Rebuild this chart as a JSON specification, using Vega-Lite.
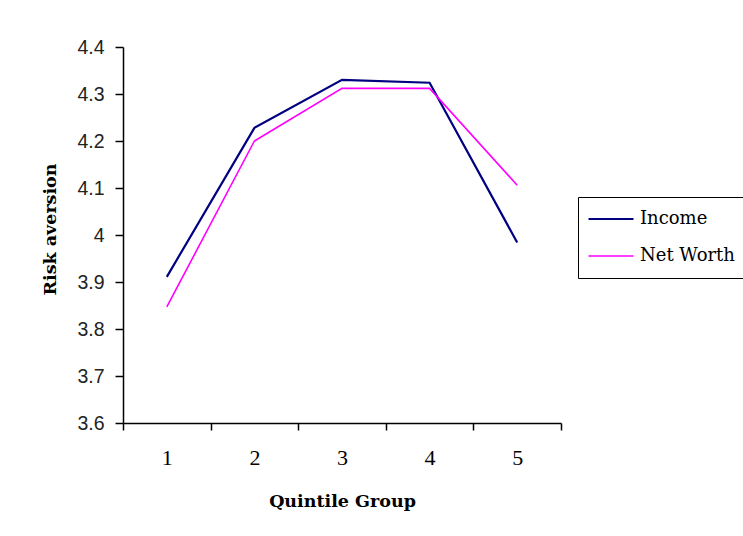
{
  "$schema": "https://vega.github.io/schema/vega-lite/v6.json",
  "width": 438,
  "height": 376,
  "autosize": {"type": "none"},
  "padding": {"left": 123, "top": 47, "right": 182, "bottom": 113},
  "background": "white",
  "data": {
    "values": [
      {"group": "1", "series": "Income", "value": 3.911},
      {"group": "2", "series": "Income", "value": 4.228},
      {"group": "3", "series": "Income", "value": 4.330},
      {"group": "4", "series": "Income", "value": 4.324},
      {"group": "5", "series": "Income", "value": 3.984},
      {"group": "1", "series": "Net Worth", "value": 3.847},
      {"group": "2", "series": "Net Worth", "value": 4.200},
      {"group": "3", "series": "Net Worth", "value": 4.312},
      {"group": "4", "series": "Net Worth", "value": 4.312},
      {"group": "5", "series": "Net Worth", "value": 4.106}
    ]
  },
  "mark": {"type": "line"},
  "encoding": {
    "x": {
      "field": "group",
      "type": "ordinal",
      "scale": {"type": "band", "paddingInner": 0, "paddingOuter": 0},
      "axis": {
        "title": "Quintile Group",
        "labelAngle": 0,
        "tickBand": "extent",
        "tickSize": 7,
        "tickColor": "black",
        "domainColor": "black",
        "labelFont": "Liberation Serif",
        "labelFontSize": 22,
        "labelColor": "black",
        "labelPadding": 17,
        "titleFont": "DejaVu Serif",
        "titleFontWeight": "bold",
        "titleFontSize": 17.5,
        "titleColor": "black",
        "titlePadding": 24
      }
    },
    "y": {
      "field": "value",
      "type": "quantitative",
      "scale": {"domain": [3.6, 4.4], "zero": false, "nice": false},
      "axis": {
        "title": "Risk aversion",
        "values": [3.6, 3.7, 3.8, 3.9, 4.0, 4.1, 4.2, 4.3, 4.4],
        "format": ".1~f",
        "grid": false,
        "tickSize": 8,
        "tickColor": "black",
        "domainColor": "black",
        "labelFont": "Liberation Sans",
        "labelFontSize": 19.5,
        "labelColor": "#222222",
        "labelPadding": 11,
        "titleFont": "DejaVu Serif",
        "titleFontWeight": "bold",
        "titleFontSize": 17.5,
        "titleColor": "black",
        "titlePadding": 17,
        "titleY": 182
      }
    },
    "color": {
      "field": "series",
      "type": "nominal",
      "scale": {"domain": ["Income", "Net Worth"], "range": ["#000080", "#FF00FF"]},
      "legend": {
        "title": null,
        "orient": "none",
        "legendX": 455,
        "legendY": 150,
        "symbolType": "stroke",
        "symbolSize": 2025,
        "symbolStrokeWidth": 2,
        "strokeColor": "black",
        "padding": 9,
        "clipHeight": 26,
        "rowPadding": 11,
        "labelFont": "DejaVu Serif",
        "labelFontSize": 18,
        "labelColor": "black",
        "labelOffset": 5,
        "labelLimit": 200
      }
    },
    "strokeWidth": {
      "field": "series",
      "type": "nominal",
      "scale": {"domain": ["Income", "Net Worth"], "range": [2.2, 1.6]},
      "legend": null
    }
  },
  "config": {
    "view": {"stroke": null},
    "axis": {"domainWidth": 1.5, "tickWidth": 1.5}
  }
}
